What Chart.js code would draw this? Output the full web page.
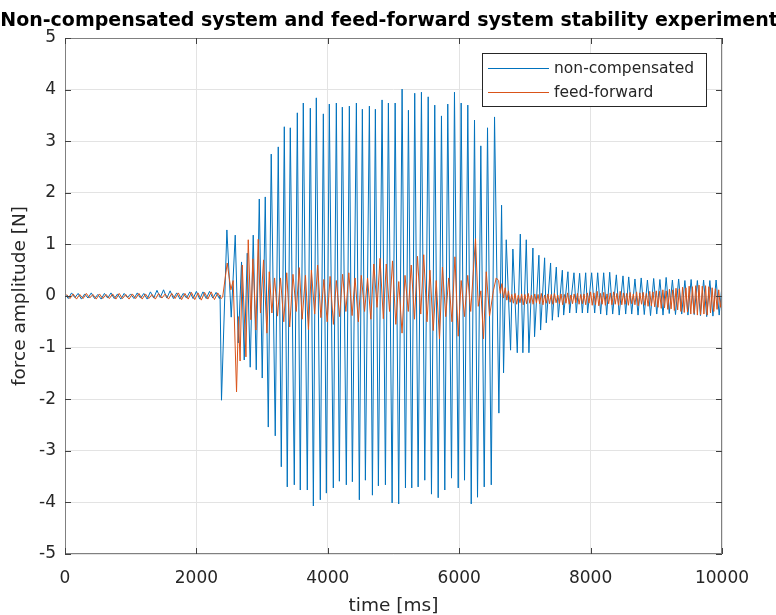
<!DOCTYPE html>
<html>
<head>
<meta charset="utf-8">
<script src="https://cdn.jsdelivr.net/npm/chart.js@4.4.1/dist/chart.umd.min.js"></script>
<style>
  html, body { margin: 0; padding: 0; background: #fff; }
  canvas { display: block; }
</style>
</head>
<body>
<canvas id="chart" width="776" height="615"></canvas>
<script>
// axis ticks
const xTicks = [0, 2000, 4000, 6000, 8000, 10000];
const yTicks = [-5, -4, -3, -2, -1, 0, 1, 2, 3, 4, 5];

// non-compensated, quiet part (one sample every 50 ms from 0)
const ncQuietStep = 50;
const ncQuiet = [0.04, -0.05, 0.06, -0.03, 0.05, -0.06, 0.04, -0.04, 0.06, -0.05, 0.03, -0.06,
  0.05, -0.04, 0.06, -0.05, 0.04, -0.06, 0.05, -0.03, 0.04, -0.05, 0.06, -0.04, 0.05, -0.06,
  0.08, -0.04, 0.11, -0.03, 0.12, -0.04, 0.10, -0.05, 0.06, -0.06, 0.05, -0.04, 0.08, -0.05,
  0.09, -0.06, 0.08, -0.05, 0.09, -0.04, 0.07, -0.05];

// non-compensated, unstable burst (peak times in ms, force in N)
const ncBurstTime = [2360, 2382, 2464, 2530, 2591, 2637, 2687, 2728, 2774, 2819,
  2865, 2911, 2957, 3002, 3048, 3094, 3139, 3200, 3246, 3292,
  3338, 3383, 3429, 3490, 3536, 3581, 3627, 3688, 3734, 3780,
  3825, 3886, 3932, 3978, 4023, 4084, 4130, 4176, 4221, 4282,
  4328, 4374, 4435, 4480, 4526, 4572, 4633, 4679, 4724, 4770,
  4826, 4877, 4922, 4979, 5025, 5079, 5131, 5182, 5227, 5278,
  5323, 5375, 5425, 5476, 5528, 5578, 5628, 5680, 5730, 5781,
  5826, 5883, 5928, 5985, 6030, 6081, 6131, 6183, 6233, 6279,
  6329, 6381, 6431, 6488, 6538];
const ncBurst = [0.02, -2.02, 1.28, -0.41, 1.18, -0.91, 0.66, -1.24, 0.83, -1.38,
  1.18, -1.43, 1.88, -1.59, 1.92, -2.54, 2.75, -2.71, 2.89, -3.31,
  3.28, -3.70, 3.26, -3.66, 3.55, -3.76, 3.74, -3.76, 3.64, -4.07,
  3.84, -3.95, 3.53, -3.82, 3.72, -3.72, 3.74, -3.59, 3.66, -3.66,
  3.68, -3.60, 3.74, -3.95, 3.62, -3.57, 3.68, -3.86, 3.62, -3.68,
  3.80, -3.66, 3.74, -4.01, 3.74, -4.03, 4.01, -3.72, 3.60, -3.72,
  3.93, -3.70, 3.95, -3.57, 3.86, -3.84, 3.70, -3.91, 3.49, -3.76,
  3.72, -3.53, 3.95, -3.72, 3.74, -3.57, 3.70, -4.03, 3.41, -3.90,
  2.91, -3.70, 3.26, -3.66, 3.47];

// non-compensated, decay after the burst
const ncDecayTime = [6604, 6645, 6675, 6716, 6782, 6817, 6884, 6930, 6969, 7021,
  7061, 7122, 7147, 7213, 7239, 7300, 7325, 7391, 7417, 7478,
  7509, 7570, 7590, 7655, 7681, 7747, 7783, 7833, 7874, 7925,
  7955, 8016, 8062, 8108, 8153, 8199, 8245, 8291, 8336, 8392,
  8435, 8493, 8534, 8580, 8626];
const ncDecay = [-2.27, 1.76, -1.49, 1.09, -1.05, 0.91, -1.10, 1.20, -1.10, 1.09,
  -1.10, 0.93, -0.79, 0.79, -0.66, 0.74, -0.52, 0.64, -0.47, 0.56,
  -0.41, 0.50, -0.37, 0.47, -0.33, 0.45, -0.33, 0.44, -0.33, 0.45,
  -0.33, 0.45, -0.33, 0.45, -0.35, 0.45, -0.37, 0.46, -0.35, 0.41,
  -0.37, 0.39, -0.35, 0.37, -0.35];

// non-compensated, residual oscillation
const ncTailTime = [8675, 8722, 8770, 8817, 8865, 8912, 8960, 9007, 9055, 9102,
  9150, 9197, 9245, 9292, 9340, 9387, 9435, 9482, 9530, 9577,
  9625, 9672, 9720, 9767, 9815, 9862, 9910, 9957, 10000];
const ncTail = [0.33, -0.37, 0.35, -0.36, 0.31, -0.38, 0.34, -0.35, 0.32, -0.37,
  0.36, -0.34, 0.31, -0.36, 0.33, -0.35, 0.30, -0.37, 0.32, -0.36,
  0.30, -0.38, 0.31, -0.40, 0.30, -0.39, 0.31, -0.37, 0.20];

// feed-forward, quiet part (one sample every 50 ms from 25)
const ffQuietStart = 25;
const ffQuietStep = 50;
const ffQuiet = [0.03, -0.05, 0.04, -0.06, 0.03, -0.05, 0.05, -0.04, 0.03, -0.06, 0.04, -0.05,
  0.03, -0.05, 0.04, -0.06, 0.05, -0.05, 0.03, -0.06, 0.04, -0.05, 0.05, -0.06, 0.04, -0.05,
  0.03, -0.06, 0.05, -0.04, 0.04, -0.06, 0.05, -0.05, 0.06, -0.07, 0.05, -0.06, 0.07, -0.07,
  0.06, -0.08, 0.07, -0.06, 0.08, -0.07, 0.06, -0.05];

// feed-forward, during the burst
const ffBurstTime = [2400, 2469, 2525, 2560, 2611, 2640, 2665, 2698, 2754, 2789,
  2830, 2860, 2906, 2941, 2975, 3022, 3073, 3109, 3149, 3190,
  3235, 3280, 3330, 3375, 3420, 3470, 3520, 3565, 3610, 3660,
  3705, 3750, 3800, 3845, 3895, 3940, 3990, 4035, 4085, 4130,
  4180, 4225, 4275, 4320, 4370, 4415, 4465, 4510, 4560, 4605,
  4655, 4700, 4750, 4795, 4845, 4890, 4940, 4985, 5035, 5080,
  5130, 5175, 5225, 5270, 5320, 5365, 5415, 5460, 5510, 5555,
  5605, 5650, 5700, 5745, 5795, 5840, 5890, 5935, 5985, 6030,
  6080, 6130, 6175, 6248, 6290, 6330, 6370, 6412, 6462, 6520, 6563];
const ffBurst = [-0.02, 0.64, 0.12, 0.30, -1.86, -0.40, -1.26, 0.60, -1.18, 1.09,
  -0.46, 0.72, -0.66, 1.10, -0.33, 0.70, -0.72, 0.47, -0.33, 0.35,
  -0.39, 0.35, -0.50, 0.45, -0.60, 0.42, -0.30, 0.55, -0.45, 0.40,
  -0.65, 0.50, -0.35, 0.60, -0.42, 0.32, -0.50, 0.38, -0.55, 0.30,
  -0.40, 0.42, -0.30, 0.45, -0.38, 0.35, -0.50, 0.40, -0.30, 0.35,
  -0.45, 0.62, -0.22, 0.73, -0.44, 0.62, -0.30, 0.68, -0.55, 0.28,
  -0.72, 0.40, -0.30, 0.60, -0.45, 0.77, -0.35, 0.80, -0.50, 0.50,
  -0.67, 0.30, -0.83, 0.56, -0.40, 0.35, -0.50, 0.76, -0.78, 0.30,
  -0.40, 0.40, -0.30, 1.11, -0.20, 0.10, -0.83, 0.47, -0.39, 0.10, 0.35];

// feed-forward, after the burst (one sample every 25 ms from 6600)
const ffTailStart = 6600;
const ffTailStep = 25;
const ffTail = [0.30, 0.05, 0.24, -0.04, 0.16, -0.08, 0.10, -0.12,
  0.03, -0.14, 0.05, -0.16, 0.02, -0.13, 0.04, -0.17, 0.03, -0.15, 0.05, -0.14, 0.02, -0.16,
  0.04, -0.13, 0.03, -0.15, 0.05, -0.17, 0.02, -0.14, 0.04, -0.15, 0.03, -0.16, 0.05, -0.13,
  0.02, -0.15, 0.04, -0.17, 0.03, -0.14, 0.06, -0.16, 0.02, -0.15, 0.04, -0.13, 0.05, -0.16,
  0.03, -0.15, 0.04, -0.17, 0.06, -0.14,
  0.08, -0.18, 0.06, -0.17, 0.09, -0.19, 0.05, -0.16, 0.07, -0.18, 0.04, -0.15, 0.06, -0.17,
  0.08, -0.16, 0.05, -0.18, 0.09, -0.17, 0.06, -0.16, 0.05, -0.18, 0.07, -0.15, 0.04, -0.17,
  0.08, -0.19, 0.06, -0.16, 0.07, -0.18, 0.05, -0.20, 0.09, -0.19, 0.08, -0.21,
  0.10, -0.22, 0.09, -0.24, 0.12, -0.23, 0.10, -0.26, 0.13, -0.25, 0.12, -0.28, 0.15, -0.27,
  0.14, -0.30, 0.17, -0.32, 0.16, -0.31, 0.19, -0.35, 0.18, -0.34, 0.20, -0.37, 0.21, -0.36,
  0.19, -0.35, 0.20, -0.37, 0.18, -0.33, 0.16, -0.30, 0.14, -0.26, 0.12, -0.22, 0.05];

const BLUE = '#0072BD';
const ORANGE = '#D95319';
const TEXT = '#262626';
const FONT = '"DejaVu Sans", sans-serif';

const toPoints = (times, values) => values.map((v, i) => ({ x: times[i], y: v }));
const sampled = (start, step, values) => values.map((v, i) => ({ x: start + i * step, y: v }));

const ncPoints = [
  ...sampled(0, ncQuietStep, ncQuiet),
  ...toPoints(ncBurstTime, ncBurst),
  ...toPoints(ncDecayTime, ncDecay),
  ...toPoints(ncTailTime, ncTail)
];
const ffPoints = [
  ...sampled(ffQuietStart, ffQuietStep, ffQuiet),
  ...toPoints(ffBurstTime, ffBurst),
  ...sampled(ffTailStart, ffTailStep, ffTail)
];

// box, inward ticks, title and legend in MATLAB style
const matlabFrame = {
  id: 'matlabFrame',
  afterDatasetsDraw(chart) {
    const { ctx, chartArea: a, scales: { x, y } } = chart;
    ctx.save();
    ctx.lineWidth = 1;
    ctx.strokeStyle = '#808080';
    ctx.strokeRect(a.left + 0.5, a.top + 0.5, a.right - a.left - 1, a.bottom - a.top - 1);

    ctx.strokeStyle = '#404040';
    ctx.beginPath();
    xTicks.forEach(v => {
      const px = Math.round(x.getPixelForValue(v)) + 0.5;
      ctx.moveTo(px, a.bottom); ctx.lineTo(px, a.bottom - 6);
      ctx.moveTo(px, a.top); ctx.lineTo(px, a.top + 6);
    });
    yTicks.forEach(v => {
      const py = Math.round(y.getPixelForValue(v)) + 0.5;
      ctx.moveTo(a.left, py); ctx.lineTo(a.left + 6, py);
      ctx.moveTo(a.right, py); ctx.lineTo(a.right - 6, py);
    });
    ctx.stroke();

    // title
    ctx.fillStyle = '#000';
    ctx.font = 'bold 19px ' + FONT;
    ctx.textAlign = 'center';
    ctx.textBaseline = 'middle';
    ctx.fillText('Non-compensated system and feed-forward system stability experiment', 389, 21);

    // legend
    const lx = 482.5, ly = 53.5, lw = 224, lh = 53;
    ctx.fillStyle = '#fff';
    ctx.fillRect(lx, ly, lw, lh);
    ctx.strokeStyle = '#262626';
    ctx.strokeRect(lx, ly, lw, lh);
    const items = [['non-compensated', BLUE, 68], ['feed-forward', ORANGE, 92]];
    ctx.font = '15.5px ' + FONT;
    ctx.textAlign = 'left';
    items.forEach(([label, color, yy]) => {
      ctx.strokeStyle = color;
      ctx.beginPath();
      ctx.moveTo(488, yy + 0.5); ctx.lineTo(549, yy + 0.5);
      ctx.stroke();
      ctx.fillStyle = TEXT;
      ctx.fillText(label, 554, yy + 1);
    });
    ctx.restore();
  }
};

new Chart(document.getElementById('chart'), {
  type: 'line',
  data: {
    datasets: [
      { label: 'feed-forward', data: ffPoints, borderColor: ORANGE, borderWidth: 1, pointRadius: 0, order: 0 },
      { label: 'non-compensated', data: ncPoints, borderColor: BLUE, borderWidth: 1, pointRadius: 0, order: 1 }
    ]
  },
  options: {
    responsive: false,
    animation: false,
    layout: { padding: { top: 38, right: 54, left: 0, bottom: 0 } },
    plugins: { legend: { display: false }, title: { display: false }, tooltip: { enabled: false } },
    elements: { line: { tension: 0 } },
    scales: {
      x: {
        type: 'linear',
        min: 0, max: 10000,
        afterFit: s => { s.height = 61; },
        afterBuildTicks: s => { s.ticks = xTicks.map(v => ({ value: v })); },
        ticks: { color: TEXT, font: { family: FONT, size: 17 }, padding: 14, maxRotation: 0, callback: v => String(v) },
        grid: { color: '#e3e3e3', drawTicks: false },
        border: { display: false },
        title: { display: true, text: 'time [ms]', color: TEXT, font: { family: FONT, size: 18.5, lineHeight: 1 }, padding: { top: 0, bottom: 0 } }
      },
      y: {
        min: -5, max: 5,
        afterFit: s => { s.width = 65; },
        afterBuildTicks: s => { s.ticks = yTicks.map(v => ({ value: v })); },
        ticks: { color: TEXT, font: { family: FONT, size: 17 }, padding: 9, callback: v => String(v) },
        grid: { color: '#e3e3e3', drawTicks: false },
        border: { display: false },
        title: { display: true, text: 'force amplitude [N]', color: TEXT, font: { family: FONT, size: 18.5 }, padding: { top: 9, bottom: 0 } }
      }
    }
  },
  plugins: [matlabFrame]
});
</script>
</body>
</html>
